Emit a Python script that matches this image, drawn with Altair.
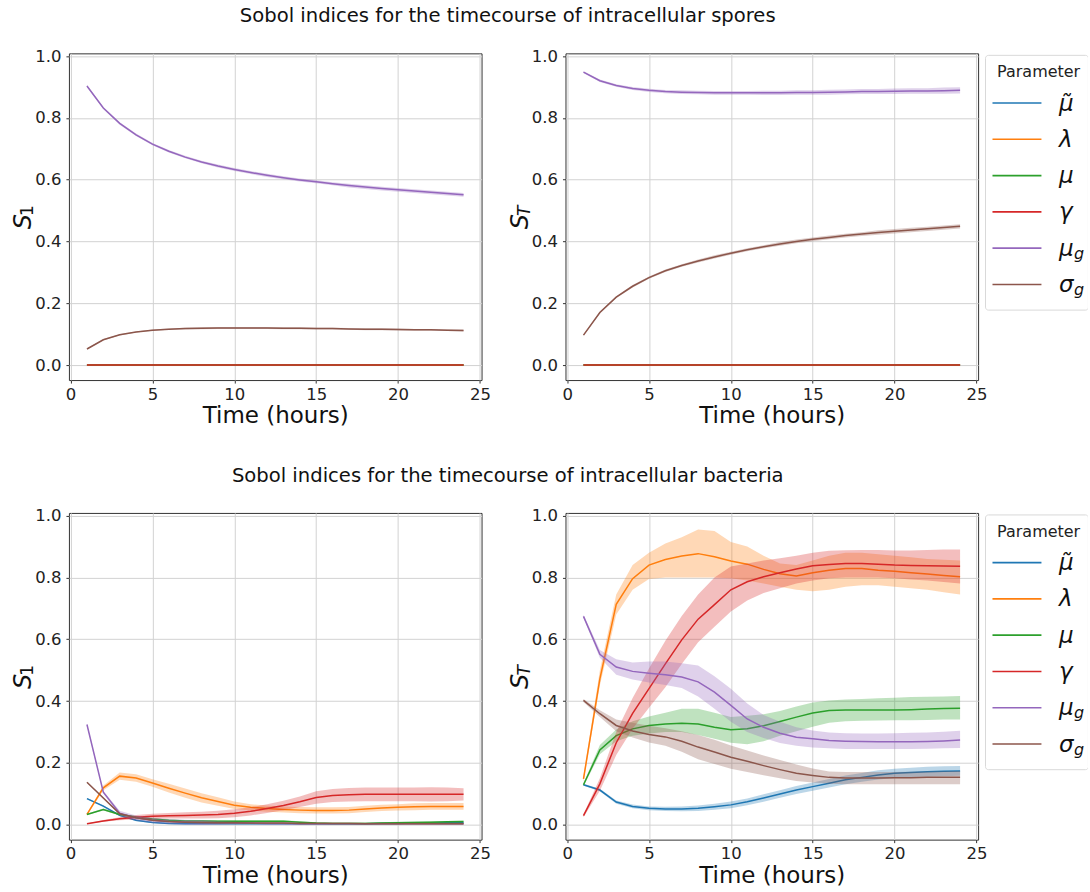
import altair as alt
import pandas as pd

# ---------------------------------------------------------------- data
HOURS = [1, 2, 3, 4, 5, 6, 7, 8, 9, 10, 11, 12, 13, 14, 15, 16, 17, 18, 19, 20, 21, 22, 23, 24]

PARAMS = ["mu_tilde", "lambda", "mu", "gamma", "mu_g", "sigma_g"]
COLORS = ["#1f77b4", "#ff7f0e", "#2ca02c", "#d62728", "#9467bd", "#8c564b"]
LEGEND_SYMBOLS = ["μ\u0303", "λ", "μ", "γ", "μ", "σ"]
LEGEND_SUBS = ["", "", "", "", "g", "g"]

ZEROS = [0.0, 0.0, 0.0, 0.0, 0.0, 0.0, 0.0, 0.0, 0.0, 0.0, 0.0, 0.0,
         0.0, 0.0, 0.0, 0.0, 0.0, 0.0, 0.0, 0.0, 0.0, 0.0, 0.0, 0.0]

# intracellular spores, first-order index (mean and CI half-width)
SPORES_S1_MU_G = [0.903, 0.832, 0.782, 0.745, 0.715, 0.692, 0.673, 0.657, 0.644, 0.633, 0.623, 0.614,
                  0.606, 0.599, 0.593, 0.587, 0.581, 0.576, 0.571, 0.567, 0.563, 0.559, 0.555, 0.551]
SPORES_S1_MU_G_HW = [0.003, 0.003, 0.004, 0.004, 0.004, 0.004, 0.004, 0.004, 0.005, 0.005, 0.005, 0.005,
                     0.005, 0.005, 0.005, 0.005, 0.006, 0.006, 0.006, 0.006, 0.006, 0.006, 0.006, 0.006]
SPORES_S1_SIGMA_G = [0.052, 0.082, 0.098, 0.107, 0.113, 0.116, 0.118, 0.119, 0.120, 0.120, 0.120, 0.120,
                     0.119, 0.119, 0.118, 0.118, 0.117, 0.116, 0.116, 0.115, 0.114, 0.114, 0.113, 0.112]
SPORES_S1_SIGMA_G_HW = [0.002, 0.002, 0.002, 0.002, 0.002, 0.002, 0.003, 0.003, 0.003, 0.003, 0.003, 0.003,
                        0.003, 0.003, 0.003, 0.003, 0.003, 0.003, 0.003, 0.003, 0.003, 0.003, 0.003, 0.003]

# intracellular spores, total index
SPORES_ST_MU_G = [0.948, 0.920, 0.905, 0.895, 0.889, 0.885, 0.883, 0.882, 0.881, 0.881, 0.881, 0.881,
                  0.881, 0.882, 0.882, 0.883, 0.884, 0.885, 0.885, 0.886, 0.887, 0.887, 0.888, 0.889]
SPORES_ST_MU_G_HW = [0.003, 0.004, 0.004, 0.005, 0.005, 0.005, 0.006, 0.006, 0.006, 0.006, 0.006, 0.007,
                     0.007, 0.007, 0.007, 0.008, 0.008, 0.008, 0.008, 0.009, 0.009, 0.009, 0.010, 0.010]
SPORES_ST_SIGMA_G = [0.097, 0.170, 0.220, 0.255, 0.283, 0.305, 0.322, 0.337, 0.350, 0.362, 0.373, 0.383,
                     0.392, 0.400, 0.407, 0.413, 0.419, 0.424, 0.429, 0.433, 0.437, 0.441, 0.445, 0.449]
SPORES_ST_SIGMA_G_HW = [0.002, 0.003, 0.003, 0.004, 0.004, 0.004, 0.004, 0.005, 0.005, 0.005, 0.005, 0.005,
                        0.006, 0.006, 0.006, 0.006, 0.006, 0.006, 0.007, 0.007, 0.007, 0.007, 0.007, 0.007]

# intracellular bacteria, first-order index (mean and CI half-width)
BACT_S1_MU_TILDE = [0.084, 0.060, 0.030, 0.014, 0.007, 0.004, 0.003, 0.003, 0.003, 0.003, 0.003, 0.003,
                    0.003, 0.003, 0.003, 0.003, 0.003, 0.003, 0.004, 0.004, 0.005, 0.005, 0.006, 0.006]
BACT_S1_MU_TILDE_HW = [0.002, 0.003, 0.003, 0.003, 0.002, 0.002, 0.002, 0.002, 0.002, 0.002, 0.002, 0.002,
                       0.002, 0.002, 0.002, 0.002, 0.002, 0.002, 0.002, 0.002, 0.002, 0.002, 0.002, 0.002]
BACT_S1_LAMBDA = [0.033, 0.119, 0.157, 0.151, 0.135, 0.118, 0.102, 0.087, 0.075, 0.063, 0.056, 0.052,
                  0.049, 0.047, 0.046, 0.046, 0.047, 0.051, 0.054, 0.056, 0.058, 0.059, 0.059, 0.059]
BACT_S1_LAMBDA_HW = [0.003, 0.008, 0.012, 0.012, 0.012, 0.014, 0.015, 0.015, 0.014, 0.012, 0.010, 0.010,
                     0.010, 0.010, 0.010, 0.010, 0.010, 0.010, 0.010, 0.010, 0.011, 0.011, 0.011, 0.011]
BACT_S1_MU = [0.033, 0.049, 0.033, 0.025, 0.018, 0.014, 0.012, 0.012, 0.011, 0.011, 0.011, 0.011,
              0.011, 0.008, 0.005, 0.004, 0.004, 0.004, 0.005, 0.006, 0.007, 0.008, 0.009, 0.010]
BACT_S1_MU_HW = [0.002, 0.003, 0.003, 0.003, 0.003, 0.003, 0.003, 0.003, 0.003, 0.003, 0.003, 0.003,
                 0.003, 0.003, 0.003, 0.003, 0.003, 0.003, 0.003, 0.003, 0.003, 0.003, 0.003, 0.003]
BACT_S1_GAMMA = [0.003, 0.012, 0.019, 0.024, 0.027, 0.029, 0.030, 0.031, 0.033, 0.037, 0.043, 0.052,
                 0.062, 0.074, 0.088, 0.094, 0.097, 0.098, 0.098, 0.098, 0.098, 0.098, 0.098, 0.098]
BACT_S1_GAMMA_HW = [0.001, 0.003, 0.005, 0.007, 0.008, 0.009, 0.010, 0.011, 0.012, 0.013, 0.013, 0.014,
                    0.015, 0.017, 0.020, 0.021, 0.022, 0.022, 0.022, 0.022, 0.022, 0.023, 0.022, 0.020]
BACT_S1_MU_G = [0.324, 0.105, 0.037, 0.022, 0.014, 0.010, 0.008, 0.007, 0.006, 0.005, 0.005, 0.004,
                0.004, 0.003, 0.003, 0.003, 0.003, 0.003, 0.003, 0.003, 0.003, 0.003, 0.003, 0.003]
BACT_S1_MU_G_HW = [0.002, 0.004, 0.008, 0.008, 0.008, 0.008, 0.008, 0.008, 0.006, 0.004, 0.003, 0.003,
                   0.003, 0.002, 0.002, 0.002, 0.002, 0.002, 0.002, 0.002, 0.002, 0.002, 0.002, 0.002]
BACT_S1_SIGMA_G = [0.137, 0.086, 0.035, 0.022, 0.014, 0.010, 0.008, 0.007, 0.006, 0.006, 0.005, 0.005,
                   0.005, 0.004, 0.004, 0.004, 0.004, 0.003, 0.003, 0.003, 0.003, 0.003, 0.003, 0.003]
BACT_S1_SIGMA_G_HW = [0.002, 0.003, 0.003, 0.003, 0.003, 0.003, 0.003, 0.003, 0.003, 0.003, 0.003, 0.003,
                      0.003, 0.003, 0.003, 0.003, 0.003, 0.003, 0.003, 0.003, 0.003, 0.003, 0.003, 0.003]

# intracellular bacteria, total index (mean, lower and upper CI bound)
BACT_ST_MU_TILDE = [0.129, 0.112, 0.073, 0.059, 0.053, 0.051, 0.051, 0.053, 0.058, 0.064, 0.074, 0.086,
                    0.099, 0.112, 0.123, 0.134, 0.145, 0.153, 0.161, 0.166, 0.169, 0.171, 0.173, 0.174]
BACT_ST_MU_TILDE_LO = [0.126, 0.108, 0.068, 0.053, 0.047, 0.044, 0.043, 0.044, 0.048, 0.053, 0.063, 0.074,
                       0.087, 0.099, 0.110, 0.120, 0.131, 0.139, 0.146, 0.151, 0.154, 0.155, 0.157, 0.158]
BACT_ST_MU_TILDE_HI = [0.132, 0.116, 0.078, 0.065, 0.059, 0.058, 0.059, 0.062, 0.068, 0.075, 0.085, 0.098,
                       0.111, 0.125, 0.136, 0.148, 0.159, 0.167, 0.176, 0.181, 0.184, 0.187, 0.189, 0.190]
BACT_ST_LAMBDA = [0.148, 0.472, 0.713, 0.796, 0.840, 0.858, 0.869, 0.877, 0.867, 0.853, 0.843, 0.826,
                  0.812, 0.805, 0.815, 0.823, 0.829, 0.829, 0.823, 0.820, 0.815, 0.811, 0.806, 0.802]
BACT_ST_LAMBDA_LO = [0.138, 0.450, 0.680, 0.760, 0.795, 0.800, 0.800, 0.800, 0.800, 0.797, 0.790, 0.780,
                     0.770, 0.760, 0.755, 0.760, 0.770, 0.775, 0.775, 0.770, 0.765, 0.760, 0.752, 0.745]
BACT_ST_LAMBDA_HI = [0.158, 0.500, 0.745, 0.840, 0.880, 0.910, 0.930, 0.955, 0.950, 0.915, 0.900, 0.870,
                     0.845, 0.840, 0.855, 0.870, 0.880, 0.880, 0.875, 0.870, 0.865, 0.860, 0.857, 0.855]
BACT_ST_MU = [0.129, 0.242, 0.288, 0.310, 0.321, 0.326, 0.328, 0.326, 0.315, 0.307, 0.310, 0.320,
              0.334, 0.348, 0.361, 0.369, 0.371, 0.371, 0.371, 0.371, 0.372, 0.374, 0.376, 0.377]
BACT_ST_MU_LO = [0.124, 0.228, 0.270, 0.288, 0.295, 0.300, 0.300, 0.290, 0.278, 0.265, 0.260, 0.270,
                 0.288, 0.302, 0.317, 0.330, 0.335, 0.336, 0.337, 0.338, 0.338, 0.339, 0.340, 0.340]
BACT_ST_MU_HI = [0.134, 0.258, 0.308, 0.335, 0.350, 0.362, 0.375, 0.375, 0.362, 0.348, 0.352, 0.357,
                 0.368, 0.382, 0.395, 0.402, 0.405, 0.407, 0.409, 0.411, 0.413, 0.414, 0.415, 0.416]
BACT_ST_GAMMA = [0.029, 0.132, 0.265, 0.360, 0.440, 0.520, 0.598, 0.665, 0.712, 0.760, 0.786, 0.802,
                 0.815, 0.827, 0.838, 0.842, 0.845, 0.845, 0.843, 0.840, 0.839, 0.838, 0.837, 0.836]
BACT_ST_GAMMA_LO = [0.024, 0.110, 0.225, 0.310, 0.378, 0.445, 0.520, 0.590, 0.640, 0.690, 0.725, 0.750,
                    0.765, 0.780, 0.790, 0.797, 0.800, 0.800, 0.800, 0.797, 0.793, 0.790, 0.785, 0.780]
BACT_ST_GAMMA_HI = [0.034, 0.150, 0.300, 0.410, 0.505, 0.595, 0.675, 0.745, 0.800, 0.835, 0.845, 0.855,
                    0.862, 0.870, 0.880, 0.886, 0.888, 0.889, 0.889, 0.887, 0.887, 0.889, 0.890, 0.890]
BACT_ST_MU_G = [0.674, 0.551, 0.510, 0.496, 0.490, 0.485, 0.478, 0.462, 0.429, 0.386, 0.342, 0.315,
                0.296, 0.283, 0.278, 0.272, 0.270, 0.269, 0.268, 0.268, 0.268, 0.269, 0.271, 0.274]
BACT_ST_MU_G_LO = [0.669, 0.540, 0.485, 0.470, 0.460, 0.452, 0.442, 0.415, 0.375, 0.333, 0.300, 0.280,
                   0.264, 0.255, 0.250, 0.247, 0.245, 0.245, 0.245, 0.245, 0.245, 0.246, 0.247, 0.248]
BACT_ST_MU_G_HI = [0.679, 0.565, 0.535, 0.525, 0.528, 0.528, 0.522, 0.515, 0.480, 0.440, 0.392, 0.355,
                   0.333, 0.315, 0.305, 0.298, 0.296, 0.295, 0.295, 0.296, 0.297, 0.298, 0.301, 0.304]
BACT_ST_SIGMA_G = [0.402, 0.359, 0.321, 0.303, 0.292, 0.284, 0.270, 0.251, 0.235, 0.218, 0.205, 0.191,
                   0.178, 0.166, 0.159, 0.153, 0.151, 0.151, 0.151, 0.152, 0.152, 0.153, 0.153, 0.153]
BACT_ST_SIGMA_G_LO = [0.397, 0.348, 0.302, 0.282, 0.266, 0.255, 0.236, 0.212, 0.196, 0.181, 0.170, 0.160,
                      0.150, 0.141, 0.136, 0.132, 0.131, 0.131, 0.131, 0.131, 0.131, 0.131, 0.131, 0.131]
BACT_ST_SIGMA_G_HI = [0.407, 0.370, 0.340, 0.330, 0.320, 0.312, 0.302, 0.290, 0.275, 0.256, 0.240, 0.224,
                      0.209, 0.195, 0.182, 0.172, 0.170, 0.170, 0.170, 0.170, 0.171, 0.172, 0.173, 0.174]

TITLE_SPORES = "Sobol indices for the timecourse of intracellular spores"
TITLE_BACTERIA = "Sobol indices for the timecourse of intracellular bacteria"

# ---------------------------------------------------------------- tables
def symmetric(mean, hw):
    return mean, [m - h for m, h in zip(mean, hw)], [m + h for m, h in zip(mean, hw)]


def frame(series):
    rows = []
    for p in PARAMS:
        mean, lo, hi = series[p]
        for t, m, a, b in zip(HOURS, mean, lo, hi):
            rows.append({"param": p, "time": t, "value": m, "lo": a, "hi": b})
    return pd.DataFrame(rows)


zero_band = symmetric(ZEROS, ZEROS)

spores_s1 = frame({
    "mu_tilde": zero_band, "lambda": zero_band, "mu": zero_band, "gamma": zero_band,
    "mu_g": symmetric(SPORES_S1_MU_G, SPORES_S1_MU_G_HW),
    "sigma_g": symmetric(SPORES_S1_SIGMA_G, SPORES_S1_SIGMA_G_HW),
})
spores_st = frame({
    "mu_tilde": zero_band, "lambda": zero_band, "mu": zero_band, "gamma": zero_band,
    "mu_g": symmetric(SPORES_ST_MU_G, SPORES_ST_MU_G_HW),
    "sigma_g": symmetric(SPORES_ST_SIGMA_G, SPORES_ST_SIGMA_G_HW),
})
bact_s1 = frame({
    "mu_tilde": symmetric(BACT_S1_MU_TILDE, BACT_S1_MU_TILDE_HW),
    "lambda": symmetric(BACT_S1_LAMBDA, BACT_S1_LAMBDA_HW),
    "mu": symmetric(BACT_S1_MU, BACT_S1_MU_HW),
    "gamma": symmetric(BACT_S1_GAMMA, BACT_S1_GAMMA_HW),
    "mu_g": symmetric(BACT_S1_MU_G, BACT_S1_MU_G_HW),
    "sigma_g": symmetric(BACT_S1_SIGMA_G, BACT_S1_SIGMA_G_HW),
})
bact_st = frame({
    "mu_tilde": (BACT_ST_MU_TILDE, BACT_ST_MU_TILDE_LO, BACT_ST_MU_TILDE_HI),
    "lambda": (BACT_ST_LAMBDA, BACT_ST_LAMBDA_LO, BACT_ST_LAMBDA_HI),
    "mu": (BACT_ST_MU, BACT_ST_MU_LO, BACT_ST_MU_HI),
    "gamma": (BACT_ST_GAMMA, BACT_ST_GAMMA_LO, BACT_ST_GAMMA_HI),
    "mu_g": (BACT_ST_MU_G, BACT_ST_MU_G_LO, BACT_ST_MU_G_HI),
    "sigma_g": (BACT_ST_SIGMA_G, BACT_ST_SIGMA_G_LO, BACT_ST_SIGMA_G_HI),
})

legend_table = pd.DataFrame({
    "param": PARAMS,
    "symbol": LEGEND_SYMBOLS,
    "sub": LEGEND_SUBS,
    "row": list(range(len(PARAMS))),
})

# ---------------------------------------------------------------- encodings
FONT = "DejaVu Sans"
W, H = 413, 327

x_scale = alt.Scale(domain=[-0.1, 25.1], nice=False, zero=False)
y_scale = alt.Scale(domain=[-0.0485, 1.0087], nice=False, zero=False)
x_axis = alt.Axis(values=[0, 5, 10, 15, 20, 25], format="d", title="Time (hours)",
                  titleY=42.7, titleBaseline="alphabetic", labelFlush=False, labelPadding=3)
y_axis = alt.Axis(values=[0, 0.2, 0.4, 0.6, 0.8, 1.0], format=".1f", title=None, labelPadding=5)

x_enc = alt.X("time:Q", scale=x_scale, axis=x_axis)
y_enc = alt.Y("value:Q", scale=y_scale, axis=y_axis)
lo_enc = alt.Y("lo:Q", scale=y_scale, axis=y_axis)
color_enc = alt.Color("param:N", scale=alt.Scale(domain=PARAMS, range=COLORS), legend=None)


def text_layer(text, x, y, size, italic=False, align="center", angle=0, dy=0, color="#111"):
    mark = dict(font=FONT, fontSize=size, align=align, baseline="alphabetic", color=color, dy=dy)
    if italic:
        mark["fontStyle"] = "italic"
    if angle:
        mark["angle"] = angle
    return alt.Chart(pd.DataFrame({"label": [text]})).mark_text(**mark).encode(
        text="label:N", x=alt.value(x), y=alt.value(y))


def legend_layer():
    row_y = alt.Y("row:Q", scale=alt.Scale(domain=[0, 5], range=[49.7, 231.3]), axis=None)
    base = alt.Chart(legend_table)
    box = alt.Chart(pd.DataFrame({"k": [0]})).mark_rect(
        fill="white", stroke="#d9d9d9", strokeWidth=1, cornerRadius=3
    ).encode(x=alt.value(420.4), x2=alt.value(523.4), y=alt.value(2), y2=alt.value(257))
    cover = alt.Chart(pd.DataFrame({"k": [0]})).mark_rule(color="white", strokeWidth=1.5).encode(
        x=alt.value(523.4), y=alt.value(3), y2=alt.value(256))
    heading = text_layer("Parameter", 432, 23.7, 16, align="left", color="#222")
    samples = base.mark_rule(strokeWidth=1.6).encode(
        x=alt.value(427.4), x2=alt.value(476.4), y=row_y, color=color_enc)
    symbols = base.mark_text(font=FONT, fontSize=23, fontStyle="italic", align="left",
                             baseline="alphabetic", dy=7.5, color="#111").encode(
        x=alt.value(494), y=row_y, text="symbol:N")
    subs = base.mark_text(font=FONT, fontSize=16, fontStyle="italic", align="left",
                          baseline="alphabetic", dy=10.5, color="#111").encode(
        x=alt.value(509), y=row_y, text="sub:N")
    return alt.layer(box, cover, heading, samples, symbols, subs)


def panel(data, sub_label, sub_italic, title=None, with_legend=False, anchor=False):
    series = []
    for p in PARAMS:
        one = alt.Chart().transform_filter(alt.datum.param == p)
        series.append(one.mark_line(strokeWidth=1.5).encode(x=x_enc, y=y_enc, color=color_enc))
        series.append(one.mark_area(opacity=0.3).encode(x=x_enc, y=lo_enc, y2="hi:Q", color=color_enc))
    plot = alt.layer(*series, data=data)

    extras = [
        text_layer("S", -37.5, 168.5, 24, italic=True, angle=270),
        text_layer(sub_label, -35.5, 157.5, 17, italic=sub_italic, angle=270),
    ]
    if title:
        extras.append(text_layer(title, 439.2, -31.3, 19.6))
    if anchor:
        extras.append(
            alt.Chart(pd.DataFrame({"k": [0]})).mark_rect(opacity=0).encode(
                x=alt.value(-68.3), x2=alt.value(-67.3), y=alt.value(-52), y2=alt.value(-51))
        )

    if with_legend:
        combined = alt.layer(plot, legend_layer(), *extras).resolve_scale(y="independent")
    else:
        combined = alt.layer(plot, *extras)
    return combined.properties(width=W, height=H)


top_left = panel(spores_s1, "1", False, title=TITLE_SPORES, anchor=True)
top_right = panel(spores_st, "T", True, with_legend=True)
bottom_left = panel(bact_s1, "1", False, title=TITLE_BACTERIA)
bottom_right = panel(bact_st, "T", True, with_legend=True)

chart = alt.concat(
    top_left, top_right, bottom_left, bottom_right,
    columns=2, spacing={"row": 133, "column": 84}, bounds="flush",
).properties(
    padding=0
).configure_view(
    stroke="#333333", strokeWidth=1
).configure_axis(
    labelFont=FONT, labelFontSize=16.5, labelColor="#222222",
    titleFont=FONT, titleFontSize=23, titleFontWeight="normal", titleColor="#111111",
    tickColor="#333333", tickSize=3, tickWidth=1, domain=False,
    gridColor="#d2d2d2", gridWidth=1,
)

chart.save("out.html", embed_options={"renderer": "svg", "actions": False})
